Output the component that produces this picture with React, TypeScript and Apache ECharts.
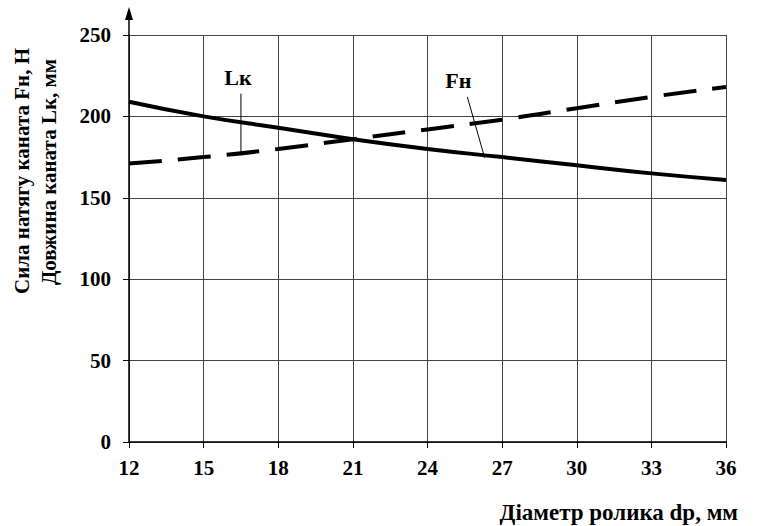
import React, { useEffect, useRef } from "react";
import * as echarts from "echarts";

const diameters = [12, 15, 18, 21, 24, 27, 30, 33, 36];
const lengthLk = [209, 200, 193, 186, 180, 175, 170, 165, 161];
const forceFn = [171, 175, 180, 186, 192, 198, 205, 212, 218];
const xTitle = "Діаметр ролика dр, мм";
const yTitle1 = "Сила натягу каната Fн, Н";
const yTitle2 = "Довжина каната Lк, мм";

const FONT = "'Liberation Serif', 'Times New Roman', serif";

export default function App() {
  const ref = useRef<HTMLDivElement>(null);
  useEffect(() => {
    if (!ref.current) return;
    const chart = echarts.init(ref.current, null, { renderer: "svg" });
    const labelStyle = { fontFamily: FONT, fontWeight: "bold" as const, fontSize: 21, color: "#000" };
    chart.setOption({
      animation: false,
      backgroundColor: "#fff",
      grid: { left: 129, right: 31, top: 35, bottom: 84 },
      xAxis: {
        type: "value",
        min: 12,
        max: 36,
        interval: 3,
        axisLine: { lineStyle: { color: "#000", width: 1.5 } },
        axisTick: { show: true, length: 6, lineStyle: { color: "#000" } },
        axisLabel: { ...labelStyle, margin: 15 },
        splitLine: { show: true, lineStyle: { color: "#444", width: 1 } },
      },
      yAxis: {
        type: "value",
        min: 0,
        max: 250,
        interval: 50,
        axisLine: { show: true, lineStyle: { color: "#000", width: 1.5 } },
        axisTick: { show: true, length: 6, lineStyle: { color: "#000" } },
        axisLabel: { ...labelStyle, margin: 18 },
        splitLine: { show: true, lineStyle: { color: "#444", width: 1 } },
      },
      series: [
        {
          type: "line",
          data: diameters.map((d, i) => [d, lengthLk[i]]),
          showSymbol: false,
          smooth: true,
          lineStyle: { color: "#000", width: 4 },
        },
        {
          type: "line",
          data: diameters.map((d, i) => [d, forceFn[i]]),
          showSymbol: false,
          smooth: true,
          lineStyle: { color: "#000", width: 4, type: [33, 16] },
        },
      ],
    });

    const p = (x: number, y: number) => chart.convertToPixel({ gridIndex: 0 }, [x, y]) as number[];
    const top = p(12, 250);
    const lkBot = p(16.5, 177);
    const lkTop = p(16.5, 214);
    const fnTop = p(25.6, 212);
    const fnBot = p(26.3, 174.5);
    const txt = { fontFamily: FONT, fontWeight: "bold", fill: "#000" };
    chart.setOption({
      graphic: [
        { type: "line", shape: { x1: top[0], y1: top[1], x2: top[0], y2: top[1] - 20 }, style: { stroke: "#000", lineWidth: 1.5 } },
        {
          type: "polygon",
          shape: { points: [[top[0], top[1] - 28], [top[0] - 4, top[1] - 15], [top[0] + 4, top[1] - 15]] },
          style: { fill: "#000" },
        },
        { type: "line", shape: { x1: lkTop[0], y1: lkTop[1], x2: lkBot[0], y2: lkBot[1] }, style: { stroke: "#000", lineWidth: 1 } },
        { type: "line", shape: { x1: fnTop[0], y1: fnTop[1], x2: fnBot[0], y2: fnBot[1] }, style: { stroke: "#000", lineWidth: 1 } },
        { type: "text", x: lkTop[0] - 3, y: lkTop[1] - 5, style: { ...txt, text: "Lк", fontSize: 22, align: "center", verticalAlign: "bottom" } },
        { type: "text", x: fnTop[0] - 9, y: fnTop[1] - 5, style: { ...txt, text: "Fн", fontSize: 22, align: "center", verticalAlign: "bottom" } },
        { type: "text", x: 738, y: 512, style: { ...txt, text: xTitle, fontSize: 23, align: "right", verticalAlign: "middle" } },
        { type: "text", x: 22, y: 171, rotation: Math.PI / 2, style: { ...txt, text: yTitle1, fontSize: 21, align: "center", verticalAlign: "middle" } },
        { type: "text", x: 49, y: 172, rotation: Math.PI / 2, style: { ...txt, text: yTitle2, fontSize: 21, align: "center", verticalAlign: "middle" } },
      ],
    });
    return () => chart.dispose();
  }, []);
  return <div ref={ref} style={{ width: 757, height: 526, position: "absolute", left: 0, top: 0 }} />;
}
